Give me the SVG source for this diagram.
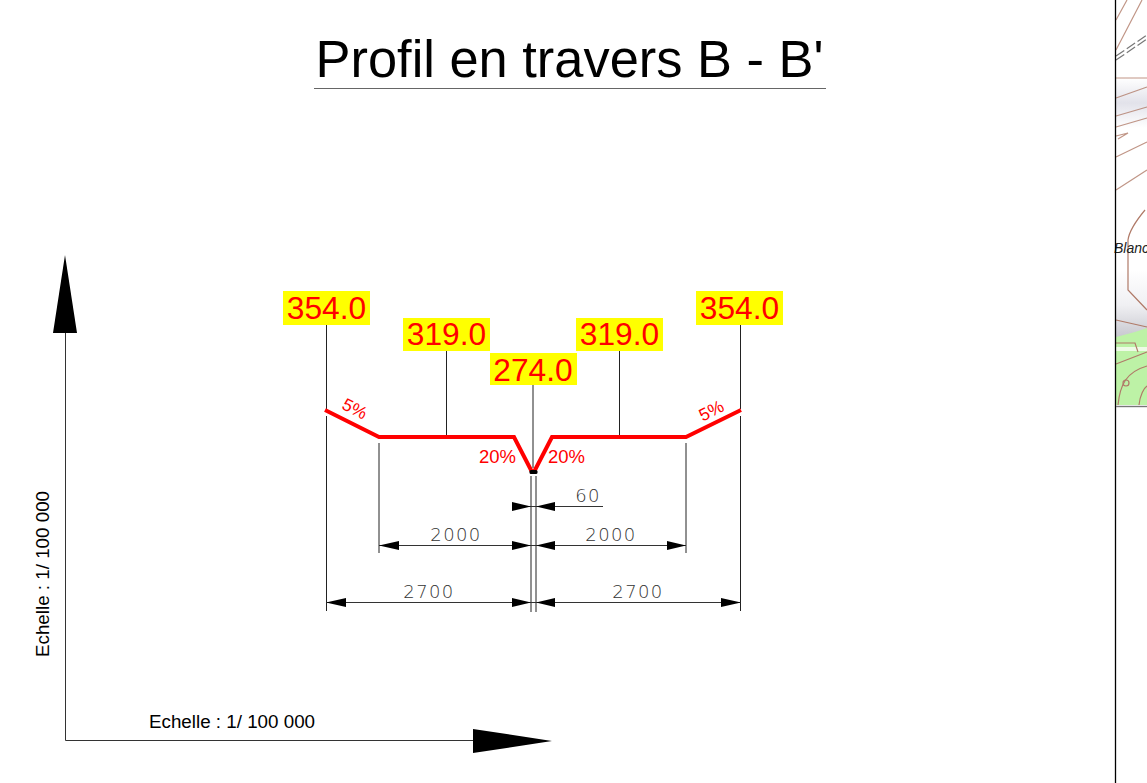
<svg xmlns="http://www.w3.org/2000/svg" width="1147" height="783" viewBox="0 0 1147 783">
<style>
text{font-family:"Liberation Sans",Arial,sans-serif}
.lbl{font-size:31.700px;fill:#f00;text-anchor:middle}
.y{fill:#ff0}
.ln{stroke:#222;stroke-width:1;fill:none}
.dim{stroke:#333;stroke-width:1;fill:none}
.ar{fill:#000}
.pr{stroke:#f00;stroke-width:4;fill:none;stroke-linejoin:miter}
.pc{font-size:18.500px;fill:#f00;text-anchor:middle}
.pc5{font-size:17.500px;fill:#f00;text-anchor:middle}
.d{font-family:"DejaVu Sans",sans-serif;font-size:18px;font-weight:200;fill:#333;text-anchor:middle;letter-spacing:1.400px}
.sc{font-size:18.800px;fill:#000}
.ct{fill:none;stroke:#b07a68;stroke-width:1.200}
</style>
<defs>
<linearGradient id="g" x1="0" y1="0" x2="0" y2="1"><stop offset="0" stop-color="#fff"/><stop offset=".5" stop-color="#f0f0f3"/><stop offset="1" stop-color="#c4c4cc"/></linearGradient>
<linearGradient id="s" x1="0" y1="0" x2="0" y2="1"><stop offset="0" stop-color="#fff"/><stop offset=".5" stop-color="#e2e2ea"/><stop offset="1" stop-color="#fff"/></linearGradient>
<filter id="b" x="-10%" y="-10%" width="120%" height="120%"><feGaussianBlur stdDeviation=".5"/></filter>
</defs>
<rect width="1147" height="783" fill="#fff"/>
<g id="title">
<text x="569.500" y="77" font-size="52.400" text-anchor="middle" fill="#000">Profil en travers B - B'</text>
<line x1="314" y1="88.500" x2="826" y2="88.500" stroke="#666" stroke-width="1.200"/>
</g>
<g id="map">
<g filter="url(#b)">
<rect x="1116" y="78" width="31" height="50" fill="url(#s)"/>
<rect x="1116" y="270" width="31" height="70" fill="url(#g)"/>
<path d="M1116 337 1135 332 1147 328V405H1116Z" fill="#bdf2a6"/>
<path d="M1116 347H1147V351H1116Z" fill="#eefbe6"/>
<path class="ct" d="M1116 20 1127 0M1116 50 1142 0M1116 78H1147M1116 98 1147 87M1116 116 1147 107M1116 127 1147 118M1116 136 1128 133 1118 139M1116 157 1147 142M1116 190 1147 170" stroke-opacity=".8"/>
<path d="M1116 60 1147 39" fill="none" stroke="#777" stroke-width="1.200" stroke-dasharray="10 3"/>
<path d="M1116 56 1147 35" fill="none" stroke="#777" stroke-width="1.200" stroke-dasharray="10 3"/>
<path class="ct" d="M1145 210C1135 222 1129 232 1128 240V290L1147 310M1116 320 1147 327"/>
<path class="ct" d="M1116 343H1135L1138 352M1116 364 1147 352M1118 405C1120 385 1126 372 1147 366M1139 405C1140 395 1144 388 1147 386"/>
<circle cx="1126" cy="383" r="3" class="ct"/>
</g>
<text x="1114" y="253" font-size="14" font-style="italic" fill="#222">Blanc</text>
</g>
<g id="frame">
<line x1="1115.500" y1="0" x2="1115.500" y2="783" stroke="#000" stroke-width="1.300"/>
<line x1="1116" y1="406.500" x2="1147" y2="406.500" stroke="#777" stroke-width="1.400"/>
</g>
<g id="axes">
<path class="dim" d="M65.500 332V740.500H473"/>
<path class="ar" d="M65 255 77 333H53Z"/>
<path class="ar" d="M552 741 473 729V753Z"/>
<text class="sc" x="149" y="728">Echelle : 1/ 100 000</text>
<text class="sc" transform="translate(49 657) rotate(-90)">Echelle : 1/ 100 000</text>
</g>
<g id="connectors">
<path class="ln" d="M326.500 325V409M326.500 416V611M446.500 350V437M533 385V468M619.500 350V437M740.500 325V409M740.500 416V611M379 443V553M686 443V553M531 476V612M536 476V612"/>
<path class="dim" d="M521 506.500H603M379 545.500H686M326 602.500H741"/>
<g class="ar">
<path d="M531 506.500 512 502V511ZM536 506.500 555 502V511Z"/>
<path d="M531 545.500 512 541V550ZM536 545.500 555 541V550ZM379 545.500 399 541V550ZM686 545.500 667 541V550Z"/>
<path d="M531 602.500 512 598V607ZM536 602.500 555 598V607ZM326 602.500 346 598V607ZM741 602.500 721 598V607Z"/>
</g>
</g>
<g id="profile">
<path class="pr" d="M325 410 379 437H514L532 472H534L552 437H686L741 410"/>
<rect x="529.500" y="470" width="8" height="4" rx="1.500" fill="#000"/>
</g>
<g id="slopes">
<text class="pc5" transform="translate(352 414) rotate(27)">5%</text>
<text class="pc5" transform="translate(714 416) rotate(-27)">5%</text>
<text class="pc" x="497.500" y="463">20%</text>
<text class="pc" x="566.500" y="463">20%</text>
</g>
<g id="dims">
<text class="d" x="456" y="541">2000</text>
<text class="d" x="611" y="541">2000</text>
<text class="d" x="429" y="598">2700</text>
<text class="d" x="638" y="598">2700</text>
<text class="d" x="588" y="502">60</text>
</g>
<g id="level-354-left"><rect class="y" x="283" y="291" width="87" height="34"/><text class="lbl" x="326.500" y="319">354.0</text></g>
<g id="level-319-left"><rect class="y" x="403" y="318" width="87" height="33"/><text class="lbl" x="446.500" y="345">319.0</text></g>
<g id="level-274"><rect class="y" x="490" y="353" width="87" height="32"/><text class="lbl" x="533" y="381">274.0</text></g>
<g id="level-319-right"><rect class="y" x="576" y="318" width="87" height="33"/><text class="lbl" x="619.500" y="345">319.0</text></g>
<g id="level-354-right"><rect class="y" x="696" y="291" width="87" height="34"/><text class="lbl" x="739.500" y="319">354.0</text></g>
</svg>
